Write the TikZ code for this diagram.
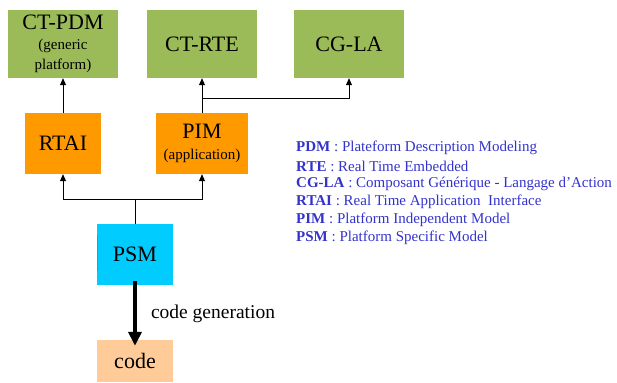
\documentclass[tikz,border=0pt]{standalone}
\usepackage{fontspec}
\setmainfont{Liberation Serif}
\usetikzlibrary{arrows.meta,positioning}
\definecolor{boxgreen}{HTML}{9BBB59}
\definecolor{boxorange}{HTML}{FF9900}
\definecolor{boxcyan}{HTML}{00CCFF}
\definecolor{boxpeach}{HTML}{FFCC99}
\definecolor{legblue}{HTML}{3333CC}
\newcommand{\subtxt}{\fontsize{15}{17}\selectfont}
\begin{document}
\begin{tikzpicture}[x=1pt,y=-1pt,
  box/.style={inner sep=0pt,align=center,font=\fontsize{22}{23}\selectfont},
  link/.style={draw=black,line width=0.8pt},
  tip/.style={-{Triangle[length=7pt,width=6pt]}},
  legend/.style={anchor=west,text=legblue,font=\fontsize{15}{18}\selectfont,inner sep=0pt}]
\useasboundingbox (0,0) rectangle (617,382);
% top row
\node[box,fill=boxgreen,minimum width=110pt,minimum height=68pt] (pdm) at (63,44)
  {CT-PDM\\[-3pt]{\subtxt(generic}\\[-3pt]{\subtxt platform)}};
\node[box,fill=boxgreen,minimum width=110pt,minimum height=68pt] (rte) at (202,44) {CT-RTE};
\node[box,fill=boxgreen,minimum width=110pt,minimum height=68pt] (cgla) at (349,44) {CG-LA};
% middle row
\node[box,fill=boxorange,minimum width=76pt,minimum height=61pt] (rtai) at (63,143.5) {RTAI};
\node[box,fill=boxorange,minimum width=92pt,minimum height=61pt] (pim) at (202,143.5)
  {PIM\\[-2pt]{\subtxt(application)}};
% bottom
\node[box,fill=boxcyan,minimum width=76pt,minimum height=61pt] (psm) at (135,254.5) {PSM};
\draw[gray,line width=1pt] ([xshift=0.5pt,yshift=-16pt]psm.west) -- ([xshift=0.5pt,yshift=20pt]psm.west);
\node[box,fill=boxpeach,minimum width=76pt,minimum height=42pt] (code) at (135,361) {code};
% connectors
\coordinate (split) at (202,98);
\coordinate (join) at (135,199);
\draw[link,tip] (rtai.north) -- (pdm.south);
\draw[link,tip] (pim.north) -- (rte.south);
\draw[link,tip] (split) -| (cgla.south);
\draw[link] (psm.north) -- (join);
\draw[link,tip] (join) -| (rtai.south);
\draw[link,tip] (join) -| (pim.south);
\draw[line width=4pt,-{Triangle[length=14pt,width=13pt]}] ([yshift=4pt]psm.south) -- ([yshift=-6pt]code.north)
  node[pos=0.5,right=14pt,font=\fontsize{19.5}{20}\selectfont,inner sep=0pt] (gen) {code generation};
% legend
\node[legend] (l1) at (296,148) {\textbf{PDM} : Plateform Description Modeling};
\node[legend] (l2) at (296,166) {\textbf{RTE} : Real Time Embedded};
\node[legend] (l3) at (296,184) {\textbf{CG-LA} : Composant Générique - Langage d’Action};
\node[legend] (l4) at (296,202) {\textbf{RTAI} : Real Time Application\ \ Interface};
\node[legend] (l5) at (296,220) {\textbf{PIM} : Platform Independent Model};
\node[legend] (l6) at (296,238) {\textbf{PSM} : Platform Specific Model};
\end{tikzpicture}
\end{document}
